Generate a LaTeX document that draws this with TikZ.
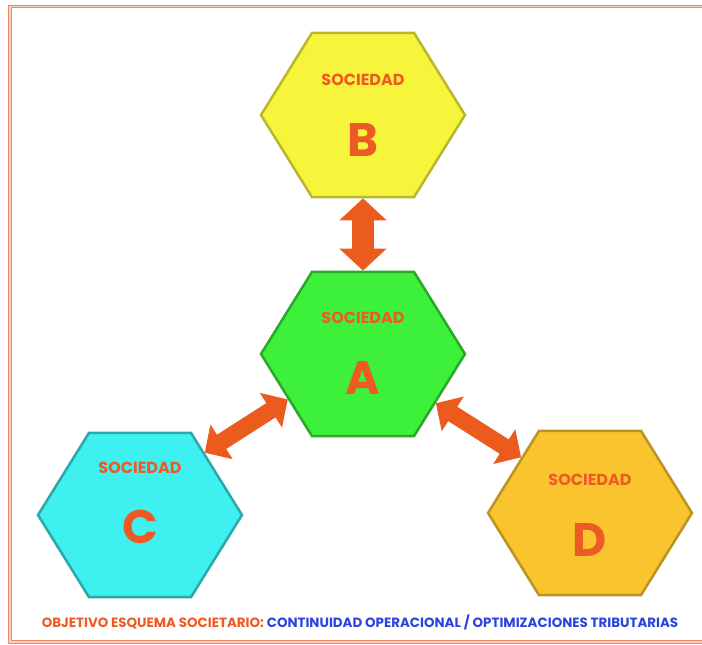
\documentclass[tikz,border=0pt]{standalone}
\usepackage{fontspec}
\setmainfont{Poppins}
\usetikzlibrary{shapes.geometric, arrows.meta, positioning, calc}
\definecolor{soc-orange}{HTML}{EE5A24}
\definecolor{soc-blue}{HTML}{2B44E0}
\definecolor{soc-arrow}{HTML}{EC5B1E}
\definecolor{soc-frame}{HTML}{EF8A66}
\definecolor{hex-yellow}{HTML}{F7F43C}
\definecolor{hex-green}{HTML}{3DF03A}
\definecolor{hex-cyan}{HTML}{3EF0F0}
\definecolor{hex-gold}{HTML}{FAC42E}

\begin{document}
\begin{tikzpicture}[
    x=1pt, y=1pt,
    hexa/.style={regular polygon, regular polygon sides=6, minimum size=204pt, inner sep=0pt, yscale=0.93, line width=2.5pt},
    soc/.style={font=\bfseries\fontsize{16}{16}\selectfont, text=soc-orange},
    letter/.style={font=\bfseries\fontsize{47}{47}\selectfont, text=soc-orange},
    link/.style={{Triangle[width=46pt,length=22pt]}-{Triangle[width=46pt,length=22pt]}, line width=22pt, soc-arrow},
    slink/.style={{Triangle[width=40pt,length=20pt]}-{Triangle[width=40pt,length=20pt]}, line width=17pt, soc-arrow}
]
    \useasboundingbox (0,0) rectangle (702,645);
    \draw[soc-frame, line width=0.9pt, double=soc-frame!40, double distance=1.4pt] (10,3) rectangle (706,638.5);

    \node[hexa, fill=hex-green, draw=hex-green!70!black] (A) at (363,291) {};
    \node[hexa, fill=hex-yellow, draw=hex-yellow!75!black] (B) at (363,530) {};
    \node[hexa, fill=hex-cyan, draw=hex-cyan!70!black] (C) at (140,130) {};
    \node[hexa, fill=hex-gold, draw=hex-gold!75!black] (D) at (590,132) {};

    \node[soc] (socA) at ([yshift=36pt]A.center) {SOCIEDAD};
    \node[letter] (nameA) at ([yshift=-24pt]A.center) {A};
    \node[soc] (socB) at ([yshift=35pt]B.center) {SOCIEDAD};
    \node[letter] (nameB) at ([yshift=-25pt]B.center) {B};
    \node[soc] (socC) at ([yshift=47pt]C.center) {SOCIEDAD};
    \node[letter] (nameC) at ([yshift=-12pt]C.center) {C};
    \node[soc] (socD) at ([yshift=33pt]D.center) {SOCIEDAD};
    \node[letter] (nameD) at ([yshift=-27pt]D.center) {D};

    \draw[link] (B) -- (A);
    \draw[slink] (A.213) -- (C.46);
    \draw[slink] (A.324) -- (D.139);

    \node[font=\bfseries\fontsize{13.4}{13.4}\selectfont] (goal) at (360,23)
        {\textcolor{soc-orange}{OBJETIVO ESQUEMA SOCIETARIO:} \textcolor{soc-blue}{CONTINUIDAD OPERACIONAL / OPTIMIZACIONES TRIBUTARIAS}};
\end{tikzpicture}
\end{document}
